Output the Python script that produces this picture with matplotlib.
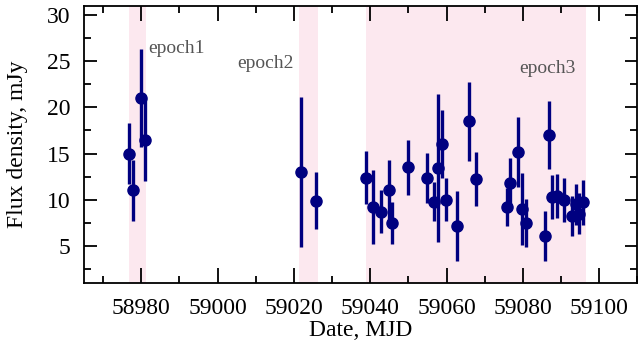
import numpy as np
import matplotlib.pyplot as plt
from matplotlib.ticker import MultipleLocator

plt.rcParams['font.family'] = ['Liberation Serif', 'DejaVu Serif']

# MJD, flux density (mJy), error (mJy)
mjd = [58976.8, 58977.9, 58979.8, 58980.9,
       59021.9, 59025.7,
       59038.9, 59040.8, 59042.8, 59044.9, 59045.8, 59049.9,
       59054.8, 59056.7, 59057.8, 59058.8, 59059.8, 59062.8,
       59065.8, 59067.6,
       59075.7, 59076.7, 59078.8, 59079.7, 59080.8,
       59085.7, 59086.8, 59087.5, 59088.9, 59090.8,
       59092.8, 59093.8, 59094.8, 59095.8]
flux = [15.0, 11.0, 21.0, 16.5,
        13.0, 9.9,
        12.4, 9.2, 8.7, 11.05, 7.5, 13.5,
        12.35, 9.8, 13.45, 16.05, 10.0, 7.1,
        18.5, 12.25,
        9.2, 11.85, 15.2, 9.0, 7.5,
        6.1, 17.0, 10.25, 10.4, 10.0,
        8.25, 9.5, 8.5, 9.7]
err = [3.3, 3.3, 5.3, 4.5,
       8.1, 3.1,
       2.9, 4.0, 2.3, 3.2, 2.3, 3.0,
       2.7, 2.1, 8.0, 3.7, 2.3, 3.8,
       4.3, 2.9,
       2.1, 2.7, 3.8, 3.9, 2.6,
       2.7, 3.7, 2.4, 2.4, 2.4,
       2.2, 2.2, 2.2, 2.4]

epochs = ['epoch1', 'epoch2', 'epoch3']
epoch_start = [58976.8, 59021.4, 59039.0]
epoch_end = [58981.2, 59026.4, 59096.6]
label_x = [58981.9, 59020.0, 59093.8]
label_y = [26.4, 24.8, 24.2]
label_ha = ['left', 'right', 'right']

fig = plt.figure(figsize=(6.38, 3.49), dpi=100)
ax = fig.add_axes([0.1317, 0.19, 0.8675, 0.793])

for s, e in zip(epoch_start, epoch_end):
    ax.axvspan(s, e, color='#fce8ef', lw=0, zorder=0)

for name, x, y, ha in zip(epochs, label_x, label_y, label_ha):
    ax.text(x, y, name, ha=ha, va='center', fontsize=14, color='#555555')

ax.errorbar(mjd, flux, yerr=err, fmt='o', color='#000080', ms=8,
            elinewidth=2.4, capsize=0, zorder=3)

ax.set_xlim(58965, 59110)
ax.set_ylim(1, 31)
ax.xaxis.set_major_locator(MultipleLocator(20))
ax.xaxis.set_minor_locator(MultipleLocator(10))
ax.yaxis.set_major_locator(MultipleLocator(5))
ax.yaxis.set_minor_locator(MultipleLocator(2.5))
ax.set_yticks([5, 10, 15, 20, 25, 30])
ax.tick_params(which='both', direction='in', top=True, right=True,
               labelsize=17, width=1.3)
ax.tick_params(axis='x', which='major', length=11, pad=11)
ax.tick_params(axis='y', which='major', length=9, pad=10)
ax.tick_params(which='minor', length=5)
for sp in ax.spines.values():
    sp.set_linewidth(1.3)

ax.set_xlabel('Date, MJD', fontsize=17, labelpad=1)
ax.set_ylabel('Flux density, mJy', fontsize=17, labelpad=13)

fig.savefig('out.png', dpi=100)
